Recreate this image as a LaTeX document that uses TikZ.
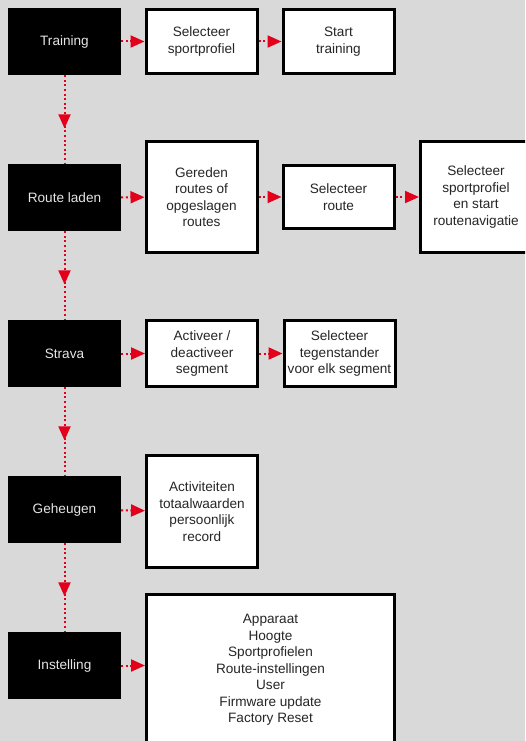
\documentclass[tikz,border=0pt]{standalone}
\usepackage{fontspec}
\setmainfont{Liberation Sans}
\usetikzlibrary{arrows.meta,decorations.markings}
\definecolor{achtergrond}{HTML}{D9D9D9}
\definecolor{pijlrood}{HTML}{E2001A}
\tikzset{
  menu/.style={fill=black, text=white!90!black, inner sep=0pt, minimum width=113pt, minimum height=67pt},
  stap/.style={draw=black, fill=white, line width=3pt, text=black!85, align=center, inner sep=0pt, minimum width=111pt},
  hpijl/.style={draw=pijlrood, line width=2pt, dash pattern=on 2pt off 2.6pt, -{Triangle[length=14pt,width=12pt]}},
  vpijl/.style={draw=pijlrood, line width=2pt, dash pattern=on 2pt off 2.6pt, postaction={decorate},
    decoration={markings, mark=at position 0.6 with {\arrow{Triangle[length=14pt,width=12pt]}}}}
}
\begin{document}
\begin{tikzpicture}[x=1pt, y=-1pt, font=\fontsize{13.6}{16.5}\selectfont]
	\useasboundingbox (0,0) rectangle (525,741);
	\fill[achtergrond] (0,0) rectangle (525,741);
	\clip (0,0) rectangle (525,741);

	% hoofdmenu
	\node[menu] (training) at (64.5,41.5) {Training};
	\node[menu] (route) at (64.5,197.5) {Route laden};
	\node[menu] (strava) at (64.5,353.5) {Strava};
	\node[menu] (geheugen) at (64.5,509.5) {Geheugen};
	\node[menu] (instelling) at (64.5,665.5) {Instelling};

	% stappen
	\node[stap, minimum height=64pt] (selprofiel) at (201.5,41.5) {Selecteer\\sportprofiel};
	\node[stap, minimum height=64pt] (starttrain) at (338.5,41.5) {Start\\training};

	\node[stap, minimum height=111pt] (gereden) at (201.5,197) {Gereden\\routes of\\opgeslagen\\routes};
	\node[stap, minimum height=63pt] (selroute) at (338.5,197) {Selecteer\\route};
	\node[stap, minimum height=111pt] (navigatie) at (476,197) {Selecteer\\sportprofiel\\en start\\routenavigatie};

	\node[stap, minimum height=66pt] (segment) at (202,353.5) {Activeer /\\deactiveer\\segment};
	\node[stap, minimum height=66pt] (tegenstander) at (339.5,353.5) {Selecteer\\tegenstander\\voor elk segment};

	\node[stap, minimum height=112pt] (activiteit) at (202,511.5) {Activiteiten\\totaalwaarden\\persoonlijk\\record};

	\node[stap, minimum width=248pt, minimum height=151pt] (menulijst) at (270.5,670) {Apparaat\\Hoogte\\Sportprofielen\\Route-instellingen\\User\\Firmware update\\Factory Reset};

	% pijlen
	\draw[vpijl] (training) -- (route);
	\draw[vpijl] (route) -- (strava);
	\draw[vpijl] (strava) -- (geheugen);
	\draw[vpijl] (geheugen) -- (instelling);

	\draw[hpijl] (training) -- (selprofiel);
	\draw[hpijl] (selprofiel) -- (starttrain);
	\draw[hpijl] (route) -- (gereden);
	\draw[hpijl] (gereden) -- (selroute);
	\draw[hpijl] (selroute) -- (navigatie);
	\draw[hpijl] (strava) -- (segment);
	\draw[hpijl] (segment) -- (tegenstander);
	\draw[hpijl] (geheugen) -- (activiteit);
	\draw[hpijl] (instelling) -- (menulijst.west |- instelling);
\end{tikzpicture}
\end{document}
